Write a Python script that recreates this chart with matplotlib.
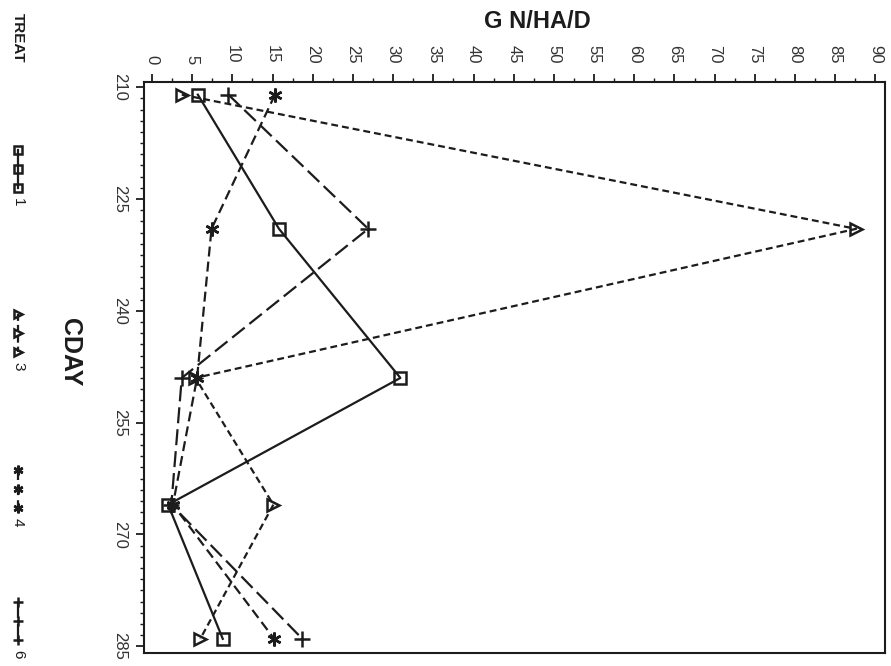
import matplotlib
matplotlib.use("Agg")
import matplotlib.pyplot as plt
from matplotlib.ticker import MultipleLocator

# calendar day of each sampling
cday = [211, 229, 249, 266, 284]

# G N/HA/D per treatment
treat_1 = [5.7, 15.8, 30.9, 2.0, 8.8]
treat_3 = [3.7, 87.6, 5.4, 15.1, 6.0]
treat_4 = [15.3, 7.4, 5.6, 2.6, 15.2]
treat_6 = [9.5, 26.9, 3.7, 2.4, 18.7]

treat_labels = ["1", "3", "4", "6"]

INK = "#1c1c1c"
LW = 1.6

# marker, dash pattern, marker size for each treatment
styles = [
    dict(marker="s", ls="-", ms=9),
    dict(marker=">", ls=(0, (3.1, 1.8)), ms=9),
    dict(marker=(6, 2, 0), ls=(0, (4.5, 2.3)), ms=10),
    dict(marker="+", ls=(0, (7.2, 2.7)), ms=11),
]

plt.rcParams['font.family'] = ['Liberation Sans', 'DejaVu Sans']

fig = plt.figure(figsize=(8.91, 6.66), dpi=100)
W, H = 891, 666
ax = fig.add_axes([144 / W, 1 - 653 / H, (885 - 144) / W, (653 - 82) / H])

# the plot is printed sideways: G N/HA/D runs across, CDAY runs down
for vals, st in zip([treat_1, treat_3, treat_4, treat_6], styles):
    ax.plot(vals, cday, color=INK, lw=LW, ls=st["ls"], marker=st["marker"],
            ms=st["ms"], mfc="none", mec=INK, mew=1.8)

ax.set_xlim(-1.0, 91.2)
ax.set_ylim(285.9, 209.3)
ax.xaxis.tick_top()
ax.xaxis.set_major_locator(MultipleLocator(5))
ax.xaxis.set_minor_locator(MultipleLocator(2.5))
ax.yaxis.set_major_locator(MultipleLocator(15))
ax.yaxis.set_minor_locator(MultipleLocator(1.5))

ax.tick_params(axis="x", which="major", length=6, width=1.3, pad=7, colors=INK, labelsize=12)
ax.tick_params(axis="x", which="minor", length=3, width=1.0, colors=INK)
ax.tick_params(axis="y", which="major", length=6, width=1.3, pad=6, colors=INK, labelsize=12)
ax.tick_params(axis="y", which="minor", length=3, width=1.0, colors=INK)
plt.setp(ax.get_xticklabels(), rotation=270, ha="center", va="bottom", color="#333333")
plt.setp(ax.get_yticklabels(), rotation=270, ha="right", va="center", color="#333333")
for sp in ax.spines.values():
    sp.set_linewidth(1.5)
    sp.set_color(INK)

fig.text(537 / W, 1 - 21 / H, "G N/HA/D", ha="center", va="center",
         fontsize=17, fontweight="bold", color=INK)
fig.text(70 / W, 1 - 352 / H, "CDAY", ha="center", va="center", rotation=270,
         fontsize=18, fontweight="bold", color=INK)

# legend drawn down the left margin, sideways like the rest
leg = fig.add_axes([0, 0, 1, 1], zorder=-1)
leg.set_xlim(0, W)
leg.set_ylim(H, 0)
leg.axis("off")
leg.text(18, 38, "TREAT", rotation=270, ha="center", va="center", fontsize=11,
         fontweight="bold", color=INK)
leg_starts = [150, 314, 470, 602]
for lab, st, y0 in zip(treat_labels, styles, leg_starts):
    ys = [y0, y0 + 19, y0 + 38]
    leg.plot([18, 18, 18], ys, color=INK, lw=LW, ls=st["ls"], marker=st["marker"],
             ms=st["ms"] * 0.7, mfc="none", mec=INK, mew=1.8)
    leg.text(18, y0 + 52, lab, rotation=270, ha="center", va="center", fontsize=11, color=INK)

fig.savefig("out.png", dpi=100)
